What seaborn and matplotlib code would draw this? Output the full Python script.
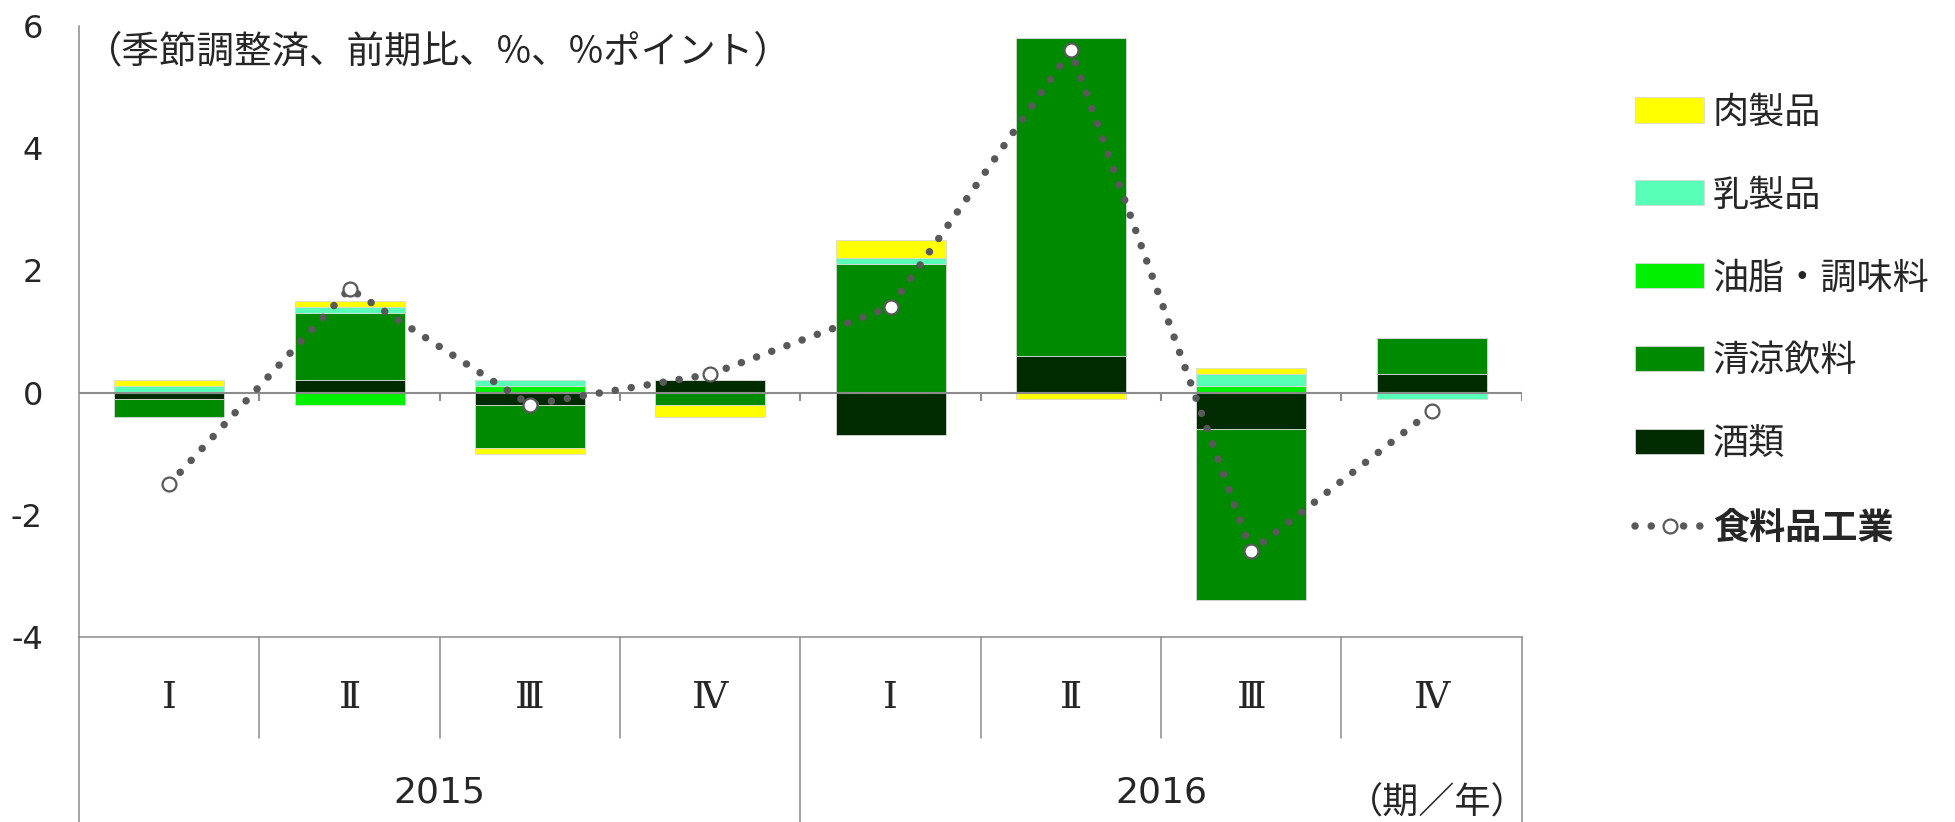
import numpy as np
import matplotlib
matplotlib.use('Agg')
import matplotlib.pyplot as plt
import seaborn as sns

sns.set_style('white')
plt.rcParams['font.family'] = ['DejaVu Sans', 'Noto Sans CJK JP']
plt.rcParams['axes.unicode_minus'] = False

# data (seasonally adjusted, q/q %, % points)
periods = ['2015Q1', '2015Q2', '2015Q3', '2015Q4', '2016Q1', '2016Q2', '2016Q3', '2016Q4']
quarter_labels = ['Ⅰ', 'Ⅱ', 'Ⅲ', 'Ⅳ', 'Ⅰ', 'Ⅱ', 'Ⅲ', 'Ⅳ']
years = ['2015', '2016']

alcohol = [-0.1, 0.2, -0.2, 0.2, -0.7, 0.6, -0.6, 0.3]
soft_drinks = [-0.3, 1.1, -0.7, -0.2, 2.1, 5.2, -2.8, 0.6]
oils_seasonings = [0.0, -0.2, 0.1, 0.0, 0.0, 0.0, 0.1, 0.0]
dairy = [0.1, 0.1, 0.1, 0.0, 0.1, 0.0, 0.2, -0.1]
meat = [0.1, 0.1, -0.1, -0.2, 0.3, -0.1, 0.1, 0.0]
food_total = [-1.5, 1.7, -0.2, 0.3, 1.4, 5.6, -2.6, -0.3]

# stacking order from zero outwards
series = [
    ('酒類', alcohol, '#002b00'),
    ('清涼飲料', soft_drinks, '#008a00'),
    ('油脂・調味料', oils_seasonings, '#00f000'),
    ('乳製品', dairy, '#57ffb7'),
    ('肉製品', meat, '#ffff00'),
]
legend_order = ['肉製品', '乳製品', '油脂・調味料', '清涼飲料', '酒類']

axis_gray = '#8c8c8c'
cjk = ['Noto Sans CJK JP', 'DejaVu Sans']

fig, ax = plt.subplots(figsize=(19.56, 8.22), dpi=100)
fig.subplots_adjust(left=0.0404, right=0.778, top=0.9684, bottom=0.2251)

pos_base = np.zeros(len(periods))
neg_base = np.zeros(len(periods))
bar_handles = {}
for name, vals, color in series:
    v = np.array(vals)
    base = np.where(v >= 0, pos_base, neg_base)
    sns.barplot(x=periods, y=v, bottom=base, color=color, saturation=1,
                width=0.61, edgecolor='#d8d8d8', linewidth=0.6,
                errorbar=None, ax=ax)
    bar_handles[name] = ax.containers[-1]
    pos_base += np.clip(v, 0, None)
    neg_base += np.clip(v, None, 0)

xpos = np.arange(len(periods))
sns.lineplot(x=xpos, y=food_total, ax=ax, color='#595959', linewidth=5.4,
             linestyle=(0, (0.01, 2.15)), dash_capstyle='round',
             marker='o', markersize=10, markerfacecolor='white',
             markeredgecolor='#595959', markeredgewidth=1.6, zorder=4)
line_handle = ax.lines[-1]

ax.set_xlim(-0.5, 7.5)
ax.set_ylim(-4, 6)
ax.set_yticks([-4, -2, 0, 2, 4, 6])
ax.set_xticks([])
ax.set_xlabel('')
ax.set_ylabel('')
ax.tick_params(axis='y', direction='in', length=6, width=1.1, color=axis_gray,
               labelsize=23, pad=26)
for s in ['top', 'right']:
    ax.spines[s].set_visible(False)
for s in ['left', 'bottom']:
    ax.spines[s].set_color(axis_gray)
    ax.spines[s].set_linewidth(1.1)

# zero line with small ticks at category boundaries
bounds = np.arange(-0.5, 8, 1.0)
ax.axhline(0, color=axis_gray, lw=1.5, zorder=3)
ax.vlines(bounds[1:], -0.13, 0, color=axis_gray, lw=1.5, zorder=3)

# category axis below the plot
xt = ax.get_xaxis_transform()
for b in bounds:
    low = -0.303 if b in (-0.5, 3.5, 7.5) else -0.165
    ax.plot([b, b], [0, low], transform=xt, color=axis_gray, lw=1.1, clip_on=False)
for i, q in enumerate(quarter_labels):
    ax.text(i, -0.10, q, transform=xt, ha='center', va='center', fontsize=27,
            family=['DejaVu Serif', 'Noto Sans CJK JP'])
for j, y in enumerate(years):
    ax.text(1.5 + 4 * j, -0.254, y, transform=xt, ha='center', va='center', fontsize=26)
ax.text(7.03, -0.272, '（期／年）', transform=xt, ha='center', va='center',
        fontsize=26, family=cjk)

ax.text(0.004, 0.958, '（季節調整済、前期比、%、%ポイント）', transform=ax.transAxes,
        ha='left', va='center', fontsize=27, family=cjk)

handles = [bar_handles[n] for n in legend_order] + [line_handle]
labels = legend_order + ['食料品工業']
leg = ax.legend(handles, labels, loc='upper left', bbox_to_anchor=(0.836, 0.885),
                bbox_transform=fig.transFigure, frameon=False, prop={'family': cjk, 'size': 26},
                handlelength=1.9, handleheight=0.7, handletextpad=0.25,
                labelspacing=1.3, borderpad=0, borderaxespad=0)
leg.get_texts()[-1].set_fontweight('bold')

fig.savefig('out.png', dpi=100)
